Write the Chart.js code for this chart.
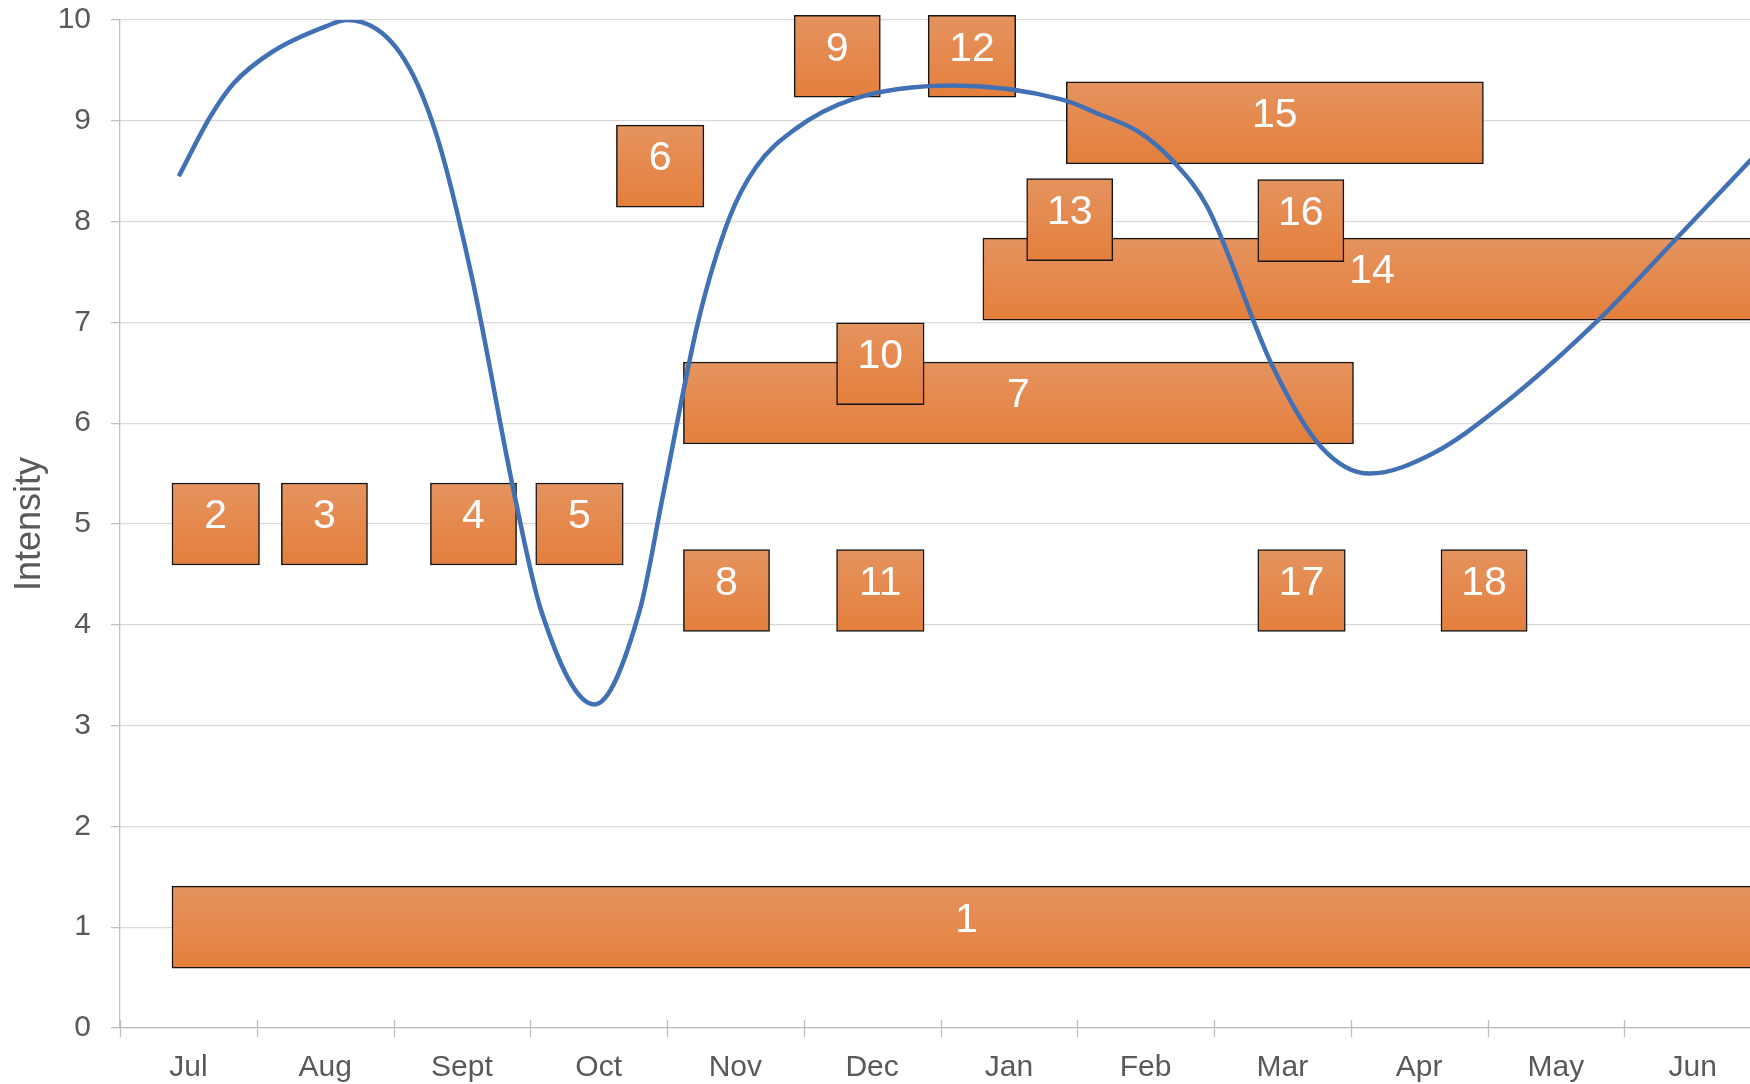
<!DOCTYPE html>
<html>
<head>
<meta charset="utf-8">
<title>Intensity</title>
<script src="https://cdn.jsdelivr.net/npm/chart.js@4.4.1/dist/chart.umd.min.js"></script>
<style>
  html, body { margin: 0; padding: 0; background: #fff; overflow: hidden; }
  #wrap { width: 1770px; height: 1084px; }
</style>
</head>
<body>
<div id="wrap"><canvas id="chart" width="1770" height="1084"></canvas></div>
<script>
// Axis labels
const months = ['Jul', 'Aug', 'Sept', 'Oct', 'Nov', 'Dec', 'Jan', 'Feb', 'Mar', 'Apr', 'May', 'Jun'];
const yTicks = [0, 1, 2, 3, 4, 5, 6, 7, 8, 9, 10];

// Boxes: start / end in months counted from the start of Jul, and their intensity level
const barNames = ['1', '2', '3', '4', '5', '6', '7', '8', '9', '10', '11', '12', '13', '14', '15', '16', '17', '18'];
const barStart = [0.38, 0.38, 1.18, 2.27, 3.04, 3.63, 4.12, 4.12, 4.93, 5.24, 5.24, 5.91, 6.63, 6.31, 6.92, 8.32, 8.32, 9.66];
const barEnd   = [12.0, 1.02, 1.81, 2.90, 3.68, 4.27, 9.02, 4.75, 5.56, 5.88, 5.88, 6.55, 7.26, 12.0, 9.97, 8.95, 8.96, 10.29];
const barLevel = [1.0, 5.0, 5.0, 5.0, 5.0, 8.55, 6.2, 4.34, 9.64, 6.59, 4.34, 9.64, 8.02, 7.43, 8.98, 8.01, 4.34, 4.34];

// Intensity curve
const curveX = [0.43, 0.66, 0.83, 1.12, 1.51, 1.66, 2.05, 2.31, 2.57, 2.88, 3.08, 3.47, 3.80, 3.97, 4.23, 4.46, 4.65, 4.93, 5.35, 6.10, 6.89, 7.17, 7.45, 7.70, 7.95, 8.43, 8.78, 9.14, 9.60, 10.09, 10.80, 11.38, 12.0];
const curveY = [8.45, 9.04, 9.37, 9.69, 9.94, 10.0, 9.67, 8.88, 7.47, 5.32, 4.14, 3.21, 4.14, 5.28, 7.02, 8.05, 8.54, 8.91, 9.21, 9.35, 9.21, 9.06, 8.89, 8.60, 8.15, 6.56, 5.77, 5.50, 5.70, 6.16, 7.01, 7.83, 8.72];

const FONT = '"Liberation Sans", Arial, Helvetica, sans-serif';
const GREY_TEXT = '#595959';
const BOX_H = 82;

// long boxes first so the small ones sit on top of them
const drawOrder = barNames.map((_, i) => i)
    .sort((a, b) => (barEnd[b] - barStart[b]) - (barEnd[a] - barStart[a]));

const boxes = drawOrder.map(i => ({
    x: [barStart[i], barEnd[i]],
    y: barLevel[i],
    name: barNames[i]
}));

const curve = curveX.map((x, i) => ({ x: x, y: curveY[i] }));

// Number written in the middle of each box
const boxLabels = {
    id: 'boxLabels',
    afterDatasetDraw(chart, args) {
        if (args.meta.type !== 'bar') return;
        const ctx = chart.ctx;
        ctx.save();
        ctx.fillStyle = '#ffffff';
        ctx.font = '41px ' + FONT;
        ctx.textAlign = 'center';
        ctx.textBaseline = 'middle';
        args.meta.data.forEach((el, i) => {
            const cx = (el.x + el.base) / 2;
            ctx.fillText(boxes[i].name, cx, el.y - 7);
        });
        ctx.restore();
    }
};

// Tick marks crossing the month axis
const crossTicks = {
    id: 'crossTicks',
    afterDraw(chart) {
        const ctx = chart.ctx;
        const x = chart.scales.x;
        ctx.save();
        ctx.strokeStyle = '#BFBFBF';
        ctx.lineWidth = 1.3;
        for (let i = 0; i <= months.length; i++) {
            const px = Math.round(x.getPixelForValue(i)) + 0.5;
            ctx.beginPath();
            ctx.moveTo(px, x.top - 8);
            ctx.lineTo(px, x.top + 9);
            ctx.stroke();
        }
        ctx.restore();
    }
};

function boxFill(context) {
    const chart = context.chart;
    const yScale = chart.scales.y;
    if (context.type !== 'data' || !yScale || !context.raw) return '#E5873F';
    const yc = yScale.getPixelForValue(context.raw.y);
    if (!isFinite(yc)) return '#E5873F';
    const g = chart.ctx.createLinearGradient(0, yc - BOX_H / 2, 0, yc + BOX_H / 2);
    g.addColorStop(0, '#E5935F');
    g.addColorStop(1, '#E47F3C');
    return g;
}

new Chart(document.getElementById('chart'), {
    type: 'line',
    data: {
        datasets: [
            {
                type: 'line',
                data: curve,
                borderColor: '#4170B4',
                borderWidth: 4.5,
                pointRadius: 0,
                cubicInterpolationMode: 'monotone',
                fill: false,
                order: 0
            },
            {
                type: 'bar',
                indexAxis: 'y',
                data: boxes,
                barThickness: BOX_H,
                backgroundColor: boxFill,
                borderColor: '#151515',
                borderWidth: 1.5,
                borderSkipped: false,
                clip: false,
                order: 1
            }
        ]
    },
    options: {
        responsive: false,
        animation: false,
        layout: { padding: { top: 20, right: 9, left: 0, bottom: 0 } },
        plugins: {
            legend: { display: false },
            tooltip: { enabled: false }
        },
        scales: {
            x: {
                type: 'linear',
                min: 0,
                max: 12,
                offset: false,
                afterBuildTicks: s => { s.ticks = months.map((m, i) => ({ value: i + 0.5 })); },
                afterFit: s => { s.height = 56; s.paddingLeft = 0; s.paddingRight = 0; },
                grid: { display: false, drawTicks: false, offset: false },
                border: { display: true, color: '#BFBFBF', width: 1.3 },
                ticks: {
                    callback: (v, i) => months[i],
                    autoSkip: false,
                    maxRotation: 0,
                    padding: 22,
                    color: GREY_TEXT,
                    font: { family: FONT, size: 30 }
                }
            },
            y: {
                type: 'linear',
                min: 0,
                max: 10,
                offset: false,
                afterBuildTicks: s => { s.ticks = yTicks.map(v => ({ value: v })); },
                afterFit: s => { s.width = 120; s.paddingTop = 0; s.paddingBottom = 0; },
                grid: { color: '#D9D9D9', lineWidth: 1.3, tickLength: 9, tickColor: '#BFBFBF', offset: false },
                border: { color: '#BFBFBF', width: 1.3 },
                ticks: {
                    padding: 20,
                    color: GREY_TEXT,
                    font: { family: FONT, size: 30 }
                },
                title: {
                    display: true,
                    text: 'Intensity',
                    color: GREY_TEXT,
                    font: { family: FONT, size: 36 },
                    padding: { top: 8, bottom: 0 }
                }
            }
        }
    },
    plugins: [boxLabels, crossTicks]
});
</script>
</body>
</html>
